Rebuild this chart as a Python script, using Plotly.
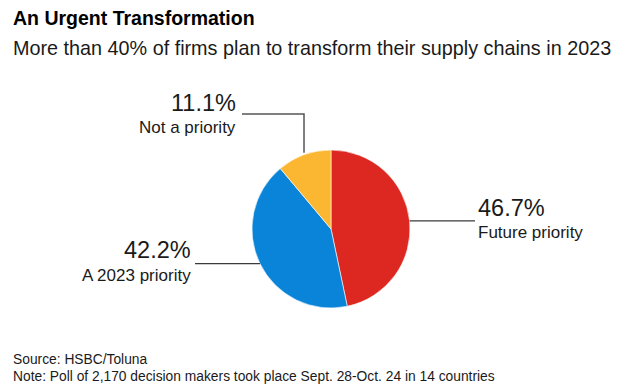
import math
import plotly.graph_objects as go

categories = ["Future priority", "A 2023 priority", "Not a priority"]
values = [46.7, 42.2, 11.1]
colors = ["#dc2820", "#0a84d8", "#fbb731"]

OFF = 8  # page body margin
W, H = 637 - OFF, 386 - OFF
CX, CY, R = 331, 229, 79  # pie centre / radius in page pixels


def px(x):
    return (x - OFF) / W


def py(y):
    return 1 - (y - OFF) / H


fig = go.Figure()
fig.add_trace(go.Pie(
    labels=categories, values=values, sort=False, direction="clockwise", rotation=0,
    marker=dict(colors=colors, line=dict(color="#ffffff", width=0.6)),
    textinfo="none", hoverinfo="label+percent", showlegend=False,
    domain=dict(x=[px(CX - R), px(CX + R)], y=[py(CY + R), py(CY - R)]),
))

# anchor points on the pie rim at each slice's mid angle
total = sum(values)
cum = 0
anchors = []
for v in values:
    mid = (cum + v / 2) / total * 2 * math.pi
    anchors.append((CX + R * math.sin(mid), CY - R * math.cos(mid)))
    cum += v

font = "Liberation Sans, Arial, sans-serif"
ink = "#1a1a1a"
line_col = "#3a3a3a"
shapes = []
ann = []
PCT = 23.5
LAB = 17

# Future priority (right)
ax, ay = anchors[0]
shapes.append(dict(type="line", xref="paper", yref="paper", x0=px(ax), y0=py(ay), x1=px(475), y1=py(ay),
                   line=dict(color=line_col, width=1.3)))
ann.append(dict(x=px(476), y=py(208), text=f"{values[0]}%", xanchor="left", yanchor="middle",
                font=dict(size=PCT, color=ink, family=font)))
ann.append(dict(x=px(476), y=py(232), text=categories[0], xanchor="left", yanchor="middle",
                font=dict(size=LAB, color=ink, family=font)))

# A 2023 priority (left)
ax, ay = anchors[1]
shapes.append(dict(type="line", xref="paper", yref="paper", x0=px(195), y0=py(ay), x1=px(ax), y1=py(ay),
                   line=dict(color=line_col, width=1.3)))
ann.append(dict(x=px(193), y=py(250), text=f"{values[1]}%", xanchor="right", yanchor="middle",
                font=dict(size=PCT, color=ink, family=font)))
ann.append(dict(x=px(193), y=py(275), text=categories[1], xanchor="right", yanchor="middle",
                font=dict(size=LAB, color=ink, family=font)))

# Not a priority (top-left, elbow)
ax, ay = anchors[2]
shapes.append(dict(type="path", xref="paper", yref="paper",
                   path=f"M {px(242)} {py(114)} L {px(ax)} {py(114)} L {px(ax)} {py(ay - 2)}",
                   line=dict(color="#555555", width=1.5)))
ann.append(dict(x=px(238), y=py(103), text=f"{values[2]}%", xanchor="right", yanchor="middle",
                font=dict(size=PCT, color=ink, family=font)))
ann.append(dict(x=px(238), y=py(127), text=categories[2], xanchor="right", yanchor="middle",
                font=dict(size=LAB, color=ink, family=font)))

# Title / subtitle / footer
ann.append(dict(x=px(11), y=py(18), text="<b>An Urgent Transformation</b>", xanchor="left", yanchor="middle",
                font=dict(size=19.5, color="#000000", family=font)))
ann.append(dict(x=px(11), y=py(48), text="More than 40% of firms plan to transform their supply chains in 2023",
                xanchor="left", yanchor="middle", font=dict(size=19.8, color=ink, family=font)))
ann.append(dict(x=px(11), y=py(359), text="Source: HSBC/Toluna", xanchor="left", yanchor="middle",
                font=dict(size=13.8, color=ink, family=font)))
ann.append(dict(x=px(11), y=py(376), text="Note: Poll of 2,170 decision makers took place Sept. 28-Oct. 24 in 14 countries",
                xanchor="left", yanchor="middle", font=dict(size=13.8, color=ink, family=font)))

for a in ann:
    a.update(xref="paper", yref="paper", showarrow=False)

fig.update_layout(
    width=W, height=H, margin=dict(l=0, r=0, t=0, b=0),
    paper_bgcolor="#ffffff", plot_bgcolor="#ffffff",
    shapes=shapes, annotations=ann,
)

fig.write_html("out.html")
